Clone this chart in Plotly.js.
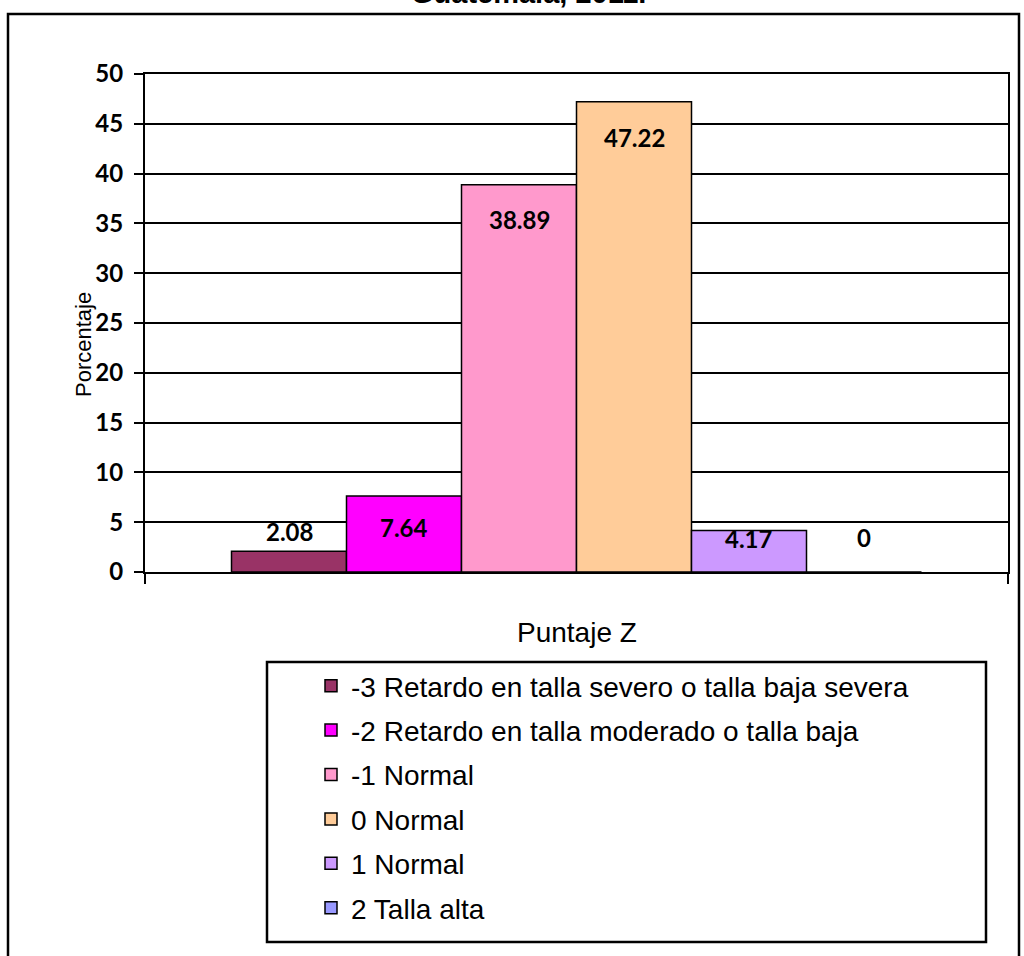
<!DOCTYPE html>
<html>
<head>
<meta charset="utf-8">
<script src="https://cdn.plot.ly/plotly-3.0.1.min.js"></script>
<style>
  html, body { margin: 0; padding: 0; background: #fff; }
  #chart { width: 1024px; height: 956px; }
</style>
</head>
<body>
<div id="chart"></div>
<script>
// Distribución por puntaje Z de talla para la edad
const seriesNames = [
  "-3 Retardo en talla severo o talla baja severa",
  "-2 Retardo en talla moderado o talla baja",
  "-1 Normal",
  "0 Normal",
  "1 Normal",
  "2 Talla alta"
];
const percentages = [2.08, 7.64, 38.89, 47.22, 4.17, 0];
const barColors = ["#993366", "#FF00FF", "#FF99CC", "#FFCC99", "#CC99FF", "#9999FF"];
const labelShift = [20, -32, -35, -36, -8, 35];   // vertical offset of each value label, px

// plot-area geometry in pixels
const W = 1024, H = 956;
const L = 145, R = 1008, T = 74, B = 572;
const px = x => (x - L) / (R - L);
const py = y => (B - y) / (B - T);

const halfSpan = ((R - L) / 2) / 115;
const xRange = [2.5 - halfSpan, 2.5 + halfSpan];

const traces = seriesNames.map((name, i) => ({
  type: "bar",
  name: name,
  x: [i],
  y: [percentages[i]],
  width: [1],
  legendgroup: "g" + i,
  marker: { color: barColors[i], line: { color: "#000", width: 1.5 } },
  hoverinfo: "name+y"
}));

const sansFont = "Arial, Liberation Sans, Helvetica, sans-serif";
const labelFont = { family: "Lato, Open Sans, sans-serif", size: 24, color: "#000", weight: 700 };

const annotations = percentages.map((v, i) => ({
  x: i, y: v, xref: "x", yref: "y",
  text: String(v),
  showarrow: false,
  yshift: labelShift[i],
  font: labelFont
}));

annotations.push({
  xref: "paper", yref: "paper",
  x: px(528), y: py(5), xanchor: "center", yanchor: "bottom", yshift: -6,
  text: "<b>Guatemala, 2011.</b>", showarrow: false,
  font: { family: sansFont, size: 29, color: "#000" }
});
annotations.push({
  xref: "paper", yref: "paper",
  x: px(83), y: py(345), xanchor: "center", yanchor: "middle",
  text: "Porcentaje", textangle: -90, showarrow: false,
  font: { family: sansFont, size: 22, color: "#000" }
});
annotations.push({
  xref: "paper", yref: "paper",
  x: px(577), y: py(632), xanchor: "center", yanchor: "middle",
  text: "Puntaje Z", showarrow: false,
  font: { family: sansFont, size: 28, color: "#000" }
});

const shapes = [
  // outer frame
  { type: "rect", xref: "paper", yref: "paper",
    x0: px(8), x1: px(1019), y0: py(14), y1: py(975),
    line: { color: "#000", width: 2.5 }, fillcolor: "rgba(0,0,0,0)", layer: "below" },
  // legend box
  { type: "rect", xref: "paper", yref: "paper",
    x0: px(267), x1: px(986), y0: py(662), y1: py(942),
    line: { color: "#000", width: 2.5 }, fillcolor: "rgba(0,0,0,0)" }
];

const layout = {
  width: W, height: H,
  margin: { l: L, r: W - R, t: T, b: H - B, pad: 0 },
  paper_bgcolor: "#fff",
  plot_bgcolor: "#fff",
  showlegend: true,
  barmode: "overlay",
  xaxis: {
    range: xRange,
    tickvals: xRange,
    ticktext: ["", ""],
    ticks: "outside", ticklen: 10, tickwidth: 2, tickcolor: "#000",
    showgrid: false, zeroline: false,
    showline: true, linecolor: "#000", linewidth: 2, mirror: true,
    fixedrange: true
  },
  yaxis: {
    range: [0, 50], dtick: 5, tick0: 0,
    ticks: "outside", ticklen: 9, tickwidth: 2, tickcolor: "#000",
    showgrid: true, gridcolor: "#000", gridwidth: 2,
    zeroline: false,
    showline: true, linecolor: "#000", linewidth: 2, mirror: true,
    tickfont: labelFont,
    ticklabelstandoff: 6,
    fixedrange: true
  },
  legend: {
    xref: "paper", yref: "paper",
    x: px(311), y: py(661), xanchor: "left", yanchor: "top",
    bgcolor: "rgba(0,0,0,0)", borderwidth: 0,
    traceorder: "grouped", tracegroupgap: 5,
    font: { family: sansFont, size: 28, color: "#000" }
  },
  annotations: annotations,
  shapes: shapes
};

Plotly.newPlot("chart", traces, layout, { displayModeBar: false, staticPlot: true });
</script>
</body>
</html>
